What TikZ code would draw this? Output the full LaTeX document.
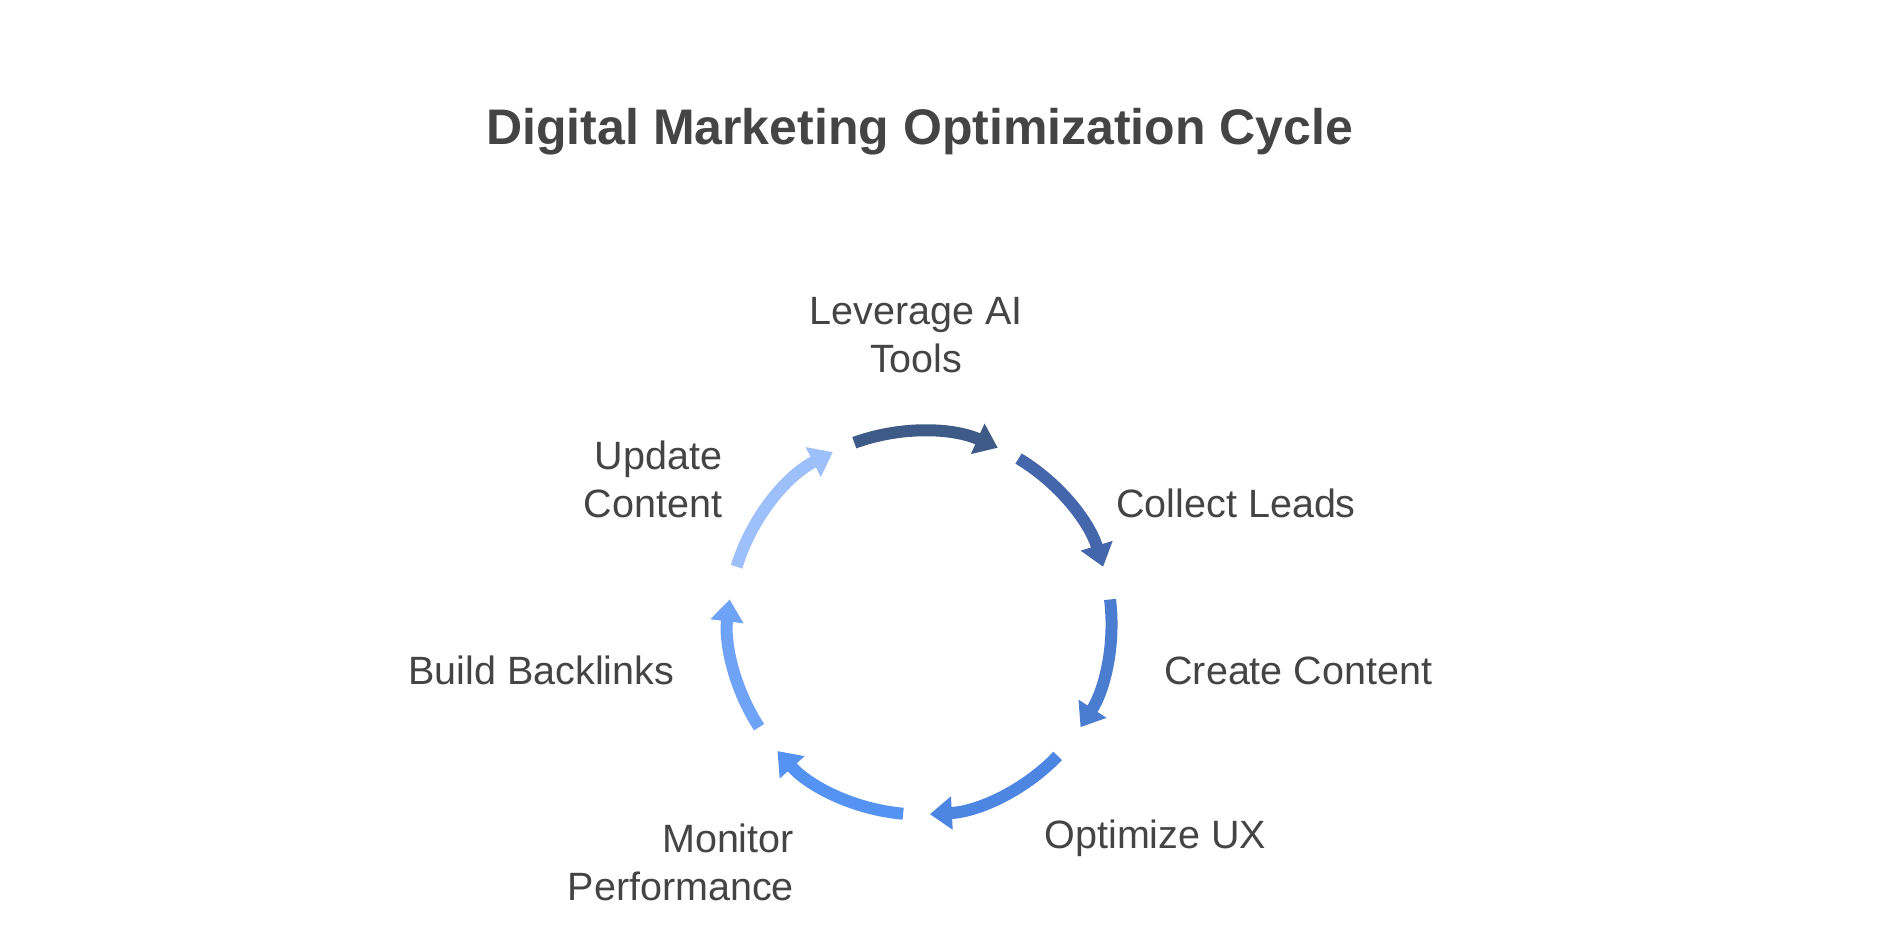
\documentclass[tikz,border=0pt]{standalone}
\usepackage{fontspec}
\setmainfont{Liberation Sans}
\usetikzlibrary{arrows.meta,positioning}
\definecolor{txtgray}{HTML}{444444}
\definecolor{cA}{HTML}{3E5A86}
\definecolor{cB}{HTML}{4466AA}
\definecolor{cC}{HTML}{4A7CD0}
\definecolor{cD}{HTML}{4D86E2}
\definecolor{cE}{HTML}{5593F2}
\definecolor{cF}{HTML}{6EA3F7}
\definecolor{cG}{HTML}{9DC0FA}
\begin{document}
\begin{tikzpicture}[x=1.1977pt,y=1.1977pt]
\tikzset{
  steparc/.style={line width=12pt,-{Triangle[length=22pt,width=32pt]}},
  steplabel/.style={text=txtgray,font=\fontsize{39.5}{48}\selectfont,inner sep=0pt,align=center}
}
\useasboundingbox (0,0) rectangle (1568,-782);
\coordinate (center) at (768,-520);
\node[text=txtgray,font=\bfseries\fontsize{50}{58}\selectfont] (title) at (768,-110) {Digital Marketing Optimization Cycle};
% arcs
\draw[steparc,cA] ([shift={(center)}]110:160) arc (110:66:160);
\draw[steparc,cB] ([shift={(center)}]59:160) arc (59:17:160);
\draw[steparc,cC] ([shift={(center)}]7:160) arc (7:-33:160);
\draw[steparc,cD] ([shift={(center)}]-44:160) arc (-44:-87:160);
\draw[steparc,cE] ([shift={(center)}]-95:160) arc (-95:-138:160);
\draw[steparc,cF] ([shift={(center)}]-147:160) arc (-147:-187:160);
\draw[steparc,cG] ([shift={(center)}]163:160) arc (163:117:160);
% labels
\node[steplabel] (leverage) at (765,-280) {Leverage AI\\Tools};
\node[steplabel,anchor=west] (collect) at (932,-420) {Collect Leads};
\node[steplabel,anchor=west] (create) at (972,-560) {Create Content};
\node[steplabel,anchor=west] (optimize) at (872,-700) {Optimize UX};
\node[steplabel,anchor=east,align=right] (monitor) at (663,-720) {Monitor\\Performance};
\node[steplabel,anchor=east] (backlinks) at (563,-560) {Build Backlinks};
\node[steplabel,anchor=east,align=right] (update) at (603,-400) {Update\\Content};
\end{tikzpicture}
\end{document}
